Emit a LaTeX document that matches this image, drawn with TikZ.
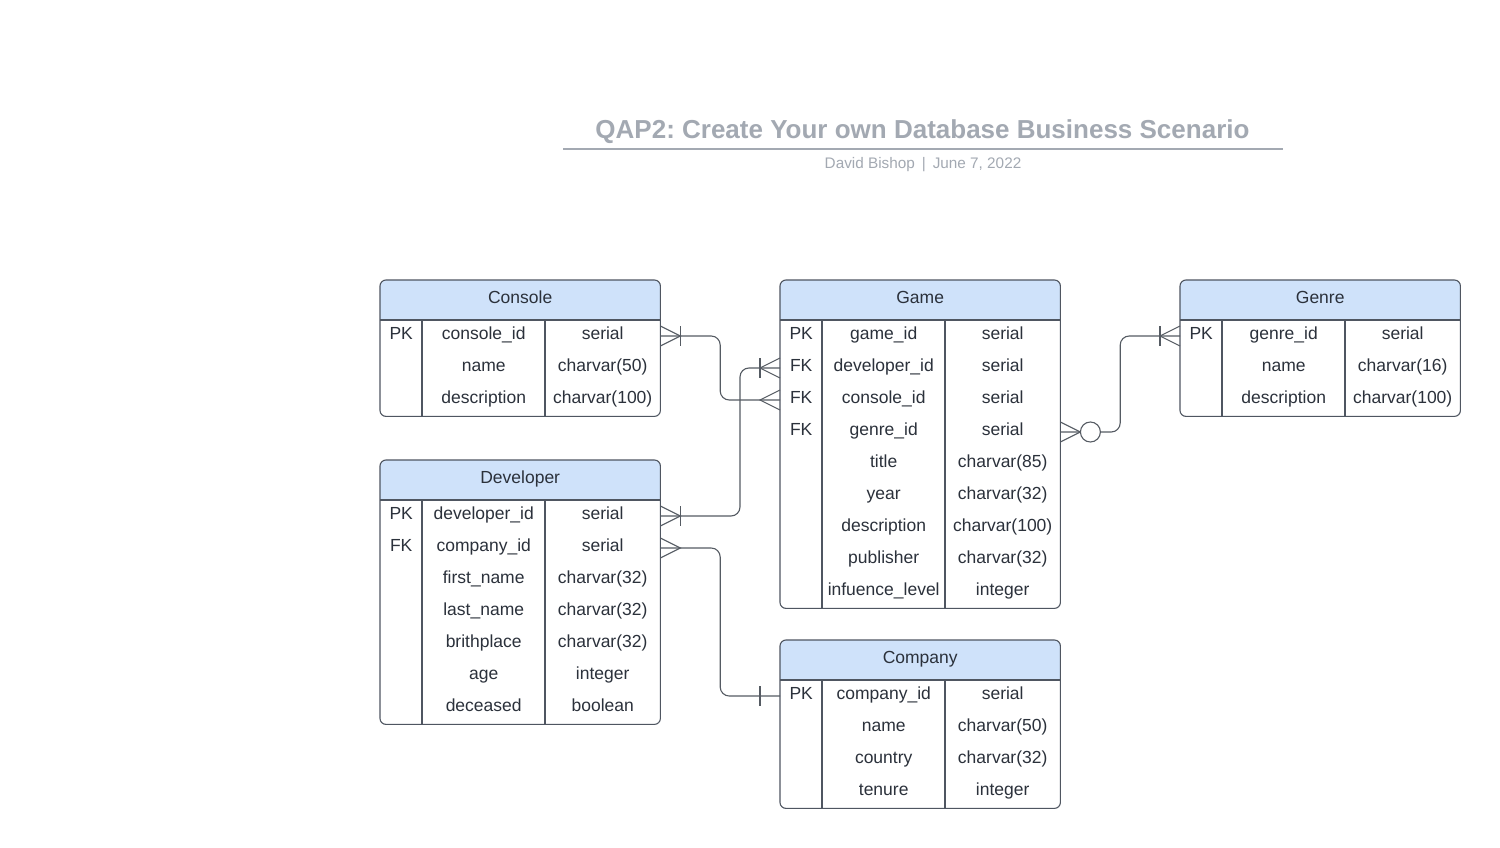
\documentclass[tikz,border=0pt]{standalone}
\usepackage{fontspec}
\setmainfont{Liberation Sans}
\usetikzlibrary{calc}
\frenchspacing
\definecolor{headfill}{HTML}{CFE2FA}
\definecolor{bordercol}{HTML}{4F5661}
\definecolor{txtcol}{HTML}{2B313B}
\definecolor{titlecol}{HTML}{A3A9B2}
\definecolor{linecol}{HTML}{555B63}
\tikzset{
  tablebox/.style={rectangle, minimum width=280pt, inner sep=0pt, draw=none},
  frame/.style={draw=bordercol, line width=1.1pt},
  cell/.style={font=\fontsize{17.5}{20}\selectfont, text=txtcol, inner sep=0pt},
  conn/.style={draw=linecol, line width=1.1pt, rounded corners=9pt},
  sym/.style={draw=linecol, line width=1.1pt},
}
\newcommand{\ertable}[6]{%
  \pgfmathsetmacro\tabh{40+32*#5}%
  \node[tablebox, minimum height=\tabh pt, anchor=north west] (#1) at (#2,#3) {};
  \begin{scope}
    \clip[rounded corners=6pt] (#1.north west) rectangle (#1.south east);
    \fill[headfill] (#1.north west) rectangle ([yshift=-40pt]#1.north east);
  \end{scope}
  \draw[frame, rounded corners=6pt] (#1.north west) rectangle (#1.south east);
  \draw[frame] ([yshift=-40pt]#1.north west) -- ([yshift=-40pt]#1.north east);
  \draw[frame] ([shift={(42pt,-40pt)}]#1.north west) -- ([xshift=42pt]#1.south west);
  \draw[frame] ([shift={(165pt,-40pt)}]#1.north west) -- ([xshift=165pt]#1.south west);
  \node[cell, anchor=base] (#1-title) at ([yshift=-23pt]#1.north) {#4};
  \foreach \k/\n/\t [count=\i] in {#6} {
    \coordinate (#1-r\i) at ([yshift={-56pt-32pt*(\i-1)}]#1.north);
    \node[cell, anchor=base] (#1-k\i) at ([shift={(-119pt,-3pt)}]#1-r\i) {\k};
    \node[cell, anchor=base] (#1-n\i) at ([shift={(-36.5pt,-3pt)}]#1-r\i) {\n};
    \node[cell, anchor=base] (#1-t\i) at ([shift={(82.5pt,-3pt)}]#1-r\i) {\t};
  }
}
\newcommand{\crowE}[1]{\draw[sym] ([yshift=10pt]#1) -- ([xshift=20pt]#1) -- ([yshift=-10pt]#1);}
\newcommand{\crowW}[1]{\draw[sym] ([yshift=10pt]#1) -- ([xshift=-20pt]#1) -- ([yshift=-10pt]#1);}
\newcommand{\barE}[1]{\draw[sym] ([shift={(20pt,10pt)}]#1) -- ([shift={(20pt,-10pt)}]#1);}
\newcommand{\barW}[1]{\draw[sym] ([shift={(-20pt,10pt)}]#1) -- ([shift={(-20pt,-10pt)}]#1);}
\newcommand{\ringE}[1]{\draw[sym, fill=white] ([xshift=30pt]#1) circle[radius=10pt];}
\begin{document}
\begin{tikzpicture}[x=1pt, y=-1pt]
\fill[white] (0,0) rectangle (1500,848);
\path[use as bounding box] (0,0) rectangle (1500,848);

\node[anchor=base, font=\fontsize{26}{30}\selectfont\bfseries, text=titlecol, inner sep=0pt] (title) at (922.5,138.5) {QAP2: Create Your own Database Business Scenario};
\draw[draw=titlecol, line width=1.8pt] (563,149) -- (1283,149);
\node[anchor=base, font=\fontsize{15.3}{18}\selectfont, text=titlecol, inner sep=0pt] (subtitle) at (923,168) {David Bishop\hspace{7pt}|\hspace{7pt}June 7, 2022};

\ertable{console}{380}{280}{Console}{3}{PK/console\_id/serial, /name/charvar(50), /description/charvar(100)}
\ertable{game}{780}{280}{Game}{9}{PK/game\_id/serial, FK/developer\_id/serial, FK/console\_id/serial, FK/genre\_id/serial, /title/charvar(85), /year/charvar(32), /description/charvar(100), /publisher/charvar(32), /infuence\_level/integer}
\ertable{genre}{1180}{280}{Genre}{3}{PK/genre\_id/serial, /name/charvar(16), /description/charvar(100)}
\ertable{developer}{380}{460}{Developer}{7}{PK/developer\_id/serial, FK/company\_id/serial, /first\_name/charvar(32), /last\_name/charvar(32), /brithplace/charvar(32), /age/integer, /deceased/boolean}
\ertable{company}{780}{640}{Company}{4}{PK/company\_id/serial, /name/charvar(50), /country/charvar(32), /tenure/integer}

\coordinate (mA) at ($(console.east)!0.5!(game.west)$);
\coordinate (mB) at ([xshift=-40pt]game.west);
\coordinate (mC) at ($(game.east)!0.5!(genre.west)$);

\draw[conn] (console.east |- console-r1) -| (mA |- game-r3) -- (game.west |- game-r3);
\draw[conn] (developer.east |- developer-r1) -| (mB |- game-r2) -- (game.west |- game-r2);
\draw[conn] (game.east |- game-r4) -| (mC |- genre-r1) -- (genre.west |- genre-r1);
\draw[conn] (developer.east |- developer-r2) -| (mA |- company-r1) -- (company.west |- company-r1);

\coordinate (p1) at (console.east |- console-r1);
\coordinate (p2) at (game.west |- game-r3);
\coordinate (p3) at (developer.east |- developer-r1);
\coordinate (p4) at (game.west |- game-r2);
\coordinate (p5) at (game.east |- game-r4);
\coordinate (p6) at (genre.west |- genre-r1);
\coordinate (p7) at (developer.east |- developer-r2);
\coordinate (p8) at (company.west |- company-r1);

\crowE{p1} \barE{p1}
\crowW{p2}
\crowE{p3} \barE{p3}
\crowW{p4} \barW{p4}
\crowE{p5} \ringE{p5}
\crowW{p6} \barW{p6}
\crowE{p7}
\barW{p8}
\end{tikzpicture}
\end{document}
